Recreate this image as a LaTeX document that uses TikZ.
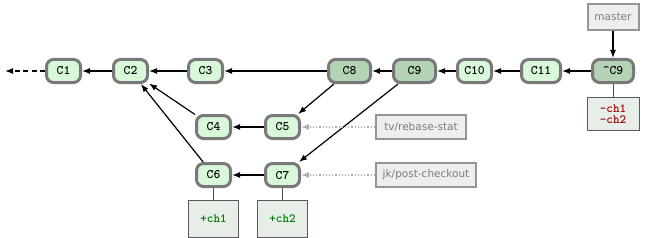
\documentclass[tikz,border=0pt]{standalone}
\usepackage{fontspec}
\newfontfamily\labelfont{DejaVu Sans}
\usetikzlibrary{arrows.meta, positioning}
\definecolor{commitfill}{HTML}{D9F7D9}
\definecolor{rebasefill}{HTML}{B4D2B4}
\definecolor{commitborder}{HTML}{787878}
\definecolor{refgray}{HTML}{7A7A7A}
\definecolor{reffill}{HTML}{EEEEEE}
\definecolor{patchfill}{HTML}{E7EDE7}
\definecolor{delred}{HTML}{A00000}
\definecolor{addgreen}{HTML}{007A00}

\tikzset{
  commit/.style={fill=commitfill, draw=commitborder, line width=3pt, rounded corners=7pt,
    minimum height=23pt, minimum width=34pt, inner sep=0pt,
    font=\fontsize{13}{15}\selectfont\ttfamily\bfseries},
  rebased/.style={commit, fill=rebasefill, minimum width=42pt},
  refbox/.style={fill=reffill, draw=refgray!80, line width=2pt, minimum height=24pt,
    inner sep=0pt, text=refgray, font=\labelfont\fontsize{10.5}{12}\selectfont},
  patchbox/.style={fill=patchfill, draw=black!65, line width=0.8pt, minimum width=50pt,
    inner sep=0pt, align=center, font=\fontsize{12.5}{13}\selectfont\ttfamily\bfseries},
  parent/.style={->, line width=1.2pt},
  pointer/.style={->, refgray!60, dotted, line width=1.2pt}
}

\begin{document}
\begin{tikzpicture}[x=1pt, y=1pt, >={Latex[length=8pt, width=6pt]}]
    \useasboundingbox (0,0) rectangle (645,-238);

    % main line
    \node[commit] (c1) at (63.5,-71) {C1};
    \node[commit, right=30pt of c1] (c2) {C2};
    \node[commit, right=38pt of c2] (c3) {C3};
    \node[rebased, right=103pt of c3] (c8) {C8};
    \node[rebased, right=20pt of c8] (c9) {C9};
    \node[commit, right=19pt of c9] (c10) {C10};
    \node[commit, minimum width=39pt, right=27pt of c10] (c11) {C11};
    \node[rebased, minimum width=41pt, right=29pt of c11] (c9p) {\^{}C9};
    \coordinate[left=40pt of c1] (past);

    % side branches
    \node[commit] (c4) at (213.5,-127) {C4};
    \node[commit, right=32pt of c4] (c5) {C5};
    \node[commit, below=22pt of c4] (c6) {C6};
    \node[commit, below=22pt of c5] (c7) {C7};

    % refs and patches
    \node[refbox, minimum width=51pt, minimum height=26pt, above=27pt of c9p] (master) {master};
    \node[refbox, minimum width=90pt, right=74pt of c5] (tvbr) {tv/rebase-stat};
    \node[refbox, minimum width=100pt, right=74pt of c7] (jkbr) {jk/post-checkout};
    \node[patchbox, minimum width=52pt, minimum height=33pt, below=13pt of c9p] (rmch) {\textcolor{delred}{-ch1}\\[-2pt]\textcolor{delred}{-ch2}};
    \node[patchbox, minimum height=37pt, below=12pt of c6] (addch1) {\textcolor{addgreen}{+ch1}};
    \node[patchbox, minimum height=37pt, below=12pt of c7] (addch2) {\textcolor{addgreen}{+ch2}};

    \draw[parent, dash pattern=on 5pt off 3.5pt] (c1) -- (past);
    \draw[parent] (c2) -- (c1);
    \draw[parent] (c3) -- (c2);
    \draw[parent] (c8) -- (c3);
    \draw[parent] (c9) -- (c8);
    \draw[parent] (c10) -- (c9);
    \draw[parent] (c11) -- (c10);
    \draw[parent] (c9p) -- (c11);
    \draw[parent] (c4) -- (c2);
    \draw[parent] (c6) -- (c2);
    \draw[parent] (c5) -- (c4);
    \draw[parent] (c8) -- (c5);
    \draw[parent] (c7) -- (c6);
    \draw[parent] (c9) -- (c7);
    \draw[parent] (master) -- (c9p);

    \draw[line width=1pt, black!70] (c9p) -- (rmch);
    \draw[line width=1pt, black!70] (c6) -- (addch1);
    \draw[line width=1pt, black!70] (c7) -- (addch2);

    \draw[pointer] (tvbr) -- (c5);
    \draw[pointer] (jkbr) -- (c7);
\end{tikzpicture}
\end{document}
